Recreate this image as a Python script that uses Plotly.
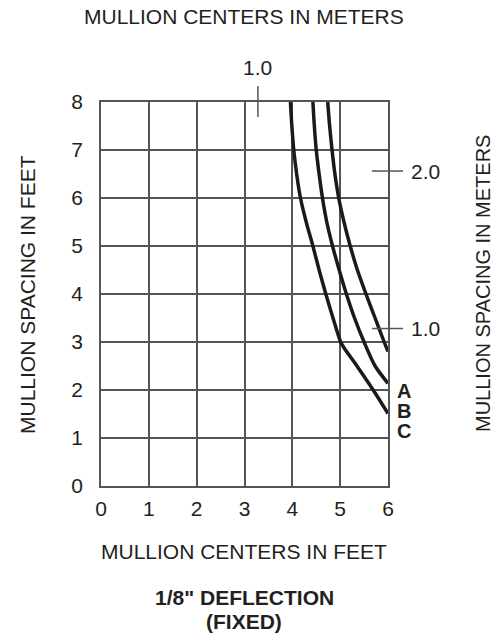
import plotly.graph_objects as go

FT_PER_M = 3.2808

# Curve data (mullion centers in feet vs mullion spacing in feet)
a_x = [4.74, 4.78, 4.83, 4.89, 4.97, 5.08, 5.21, 5.36, 5.54, 5.73, 5.92, 6.00]
a_y = [8.00, 7.50, 7.00, 6.50, 6.00, 5.50, 5.00, 4.50, 4.00, 3.50, 3.00, 2.80]

b_x = [4.43, 4.46, 4.50, 4.56, 4.63, 4.72, 4.84, 4.98, 5.13, 5.30, 5.50, 5.73, 6.00]
b_y = [8.00, 7.50, 7.00, 6.50, 6.00, 5.50, 5.00, 4.50, 4.00, 3.50, 3.00, 2.50, 2.14]

c_x = [3.96, 3.99, 4.03, 4.09, 4.17, 4.29, 4.43, 4.56, 4.70, 4.85, 5.01, 5.08, 5.35, 5.69, 6.00]
c_y = [8.00, 7.50, 7.00, 6.50, 6.00, 5.50, 5.00, 4.50, 4.00, 3.50, 3.00, 2.88, 2.50, 2.00, 1.51]

x_ticks = [0, 1, 2, 3, 4, 5, 6]
y_ticks = [0, 1, 2, 3, 4, 5, 6, 7, 8]
top_m_ticks = [1.0]
right_m_ticks = [2.0, 1.0]
curve_labels = ["A", "B", "C"]
curve_label_y = [1.98, 1.56, 1.14]

FONT = "Liberation Sans, Arial, sans-serif"
TXT = "#231f20"
GRID = "#555555"
FS = 21

# body margin is removed by post_script; plot area at page x 101..388, y 102..486
W, H = 499, 640
ML, MT = 101, 102
PW, PH = 287, 384
MR = W - ML - PW
MB = H - MT - PH

fig = go.Figure()
for xs, ys in [(a_x, a_y), (b_x, b_y), (c_x, c_y)]:
    fig.add_trace(go.Scatter(x=xs, y=ys, mode="lines",
                             line=dict(color="#1a1a1a", width=3.5, shape="spline", smoothing=0.8),
                             showlegend=False, hoverinfo="skip"))

axis_common = dict(showgrid=True, gridcolor=GRID, gridwidth=1.5,
                   zeroline=False, showline=True, linecolor=GRID, linewidth=1.5,
                   mirror=True, ticks="", tickfont=dict(family=FONT, size=FS, color=TXT))

fig.update_layout(
    width=W, height=H, autosize=False,
    margin=dict(l=ML, r=MR, t=MT, b=MB, pad=0),
    plot_bgcolor="white", paper_bgcolor="white",
    xaxis=dict(range=[0, 6], tickvals=x_ticks, ticklabelstandoff=3, **axis_common),
    yaxis=dict(range=[0, 8], tickvals=y_ticks, ticklabelstandoff=12, **axis_common),
)

def px_to_paper(px, py):
    return (px - ML) / PW, (MT + PH - py) / PH

shapes = []
annotations = []
# top meters tick
for m in top_m_ticks:
    xv = m * FT_PER_M
    _, y0 = px_to_paper(0, 117)
    _, y1 = px_to_paper(0, 86)
    _, yl = px_to_paper(0, 68)
    shapes.append(dict(type="line", xref="x", yref="paper", x0=xv, x1=xv, y0=y0, y1=y1,
                       line=dict(color=GRID, width=1.5)))
    annotations.append(dict(x=xv, y=yl, xref="x", yref="paper", text=f"{m:.1f}", showarrow=False,
                            font=dict(family=FONT, size=FS, color=TXT), yanchor="middle"))
# right meters ticks
x0, _ = px_to_paper(372, 0)
x1, _ = px_to_paper(403, 0)
xl, _ = px_to_paper(409, 0)
for m in right_m_ticks:
    yv = m * FT_PER_M
    shapes.append(dict(type="line", xref="paper", yref="y", x0=x0, x1=x1, y0=yv, y1=yv,
                       line=dict(color=GRID, width=1.5)))
    annotations.append(dict(x=xl, y=yv, xref="paper", yref="y", text=f"{m:.1f}", showarrow=False,
                            font=dict(family=FONT, size=FS, color=TXT), xanchor="left", yanchor="middle"))

# curve labels A B C
xa, _ = px_to_paper(395, 0)
for lab, yv in zip(curve_labels, curve_label_y):
    annotations.append(dict(x=xa, y=yv, xref="paper", yref="y", text=f"<b>{lab}</b>", showarrow=False,
                            font=dict(family=FONT, size=20, color=TXT), xanchor="left", yanchor="middle"))

texts = [
    (244, 16, "MULLION CENTERS IN METERS", 0, FS),
    (244, 551, "MULLION CENTERS IN FEET", 0, FS),
    (244, 597, "<b>1/8\" DEFLECTION</b>", 0, FS),
    (244, 621, "<b>(FIXED)</b>", 0, FS),
    (27, 295, "MULLION SPACING IN FEET", -90, FS),
    (483, 284, "MULLION SPACING IN METERS", -90, 20),
]
for px, py, t, ang, fs in texts:
    xp, yp = px_to_paper(px, py)
    annotations.append(dict(x=xp, y=yp, xref="paper", yref="paper", text=t, showarrow=False,
                            textangle=ang, xanchor="center", yanchor="middle",
                            font=dict(family=FONT, size=fs, color=TXT)))

fig.update_layout(shapes=shapes, annotations=annotations)
fig.write_html("out.html", config={"displayModeBar": False},
               post_script="document.documentElement.style.margin='0';document.body.style.margin='0';document.body.style.padding='0';")
